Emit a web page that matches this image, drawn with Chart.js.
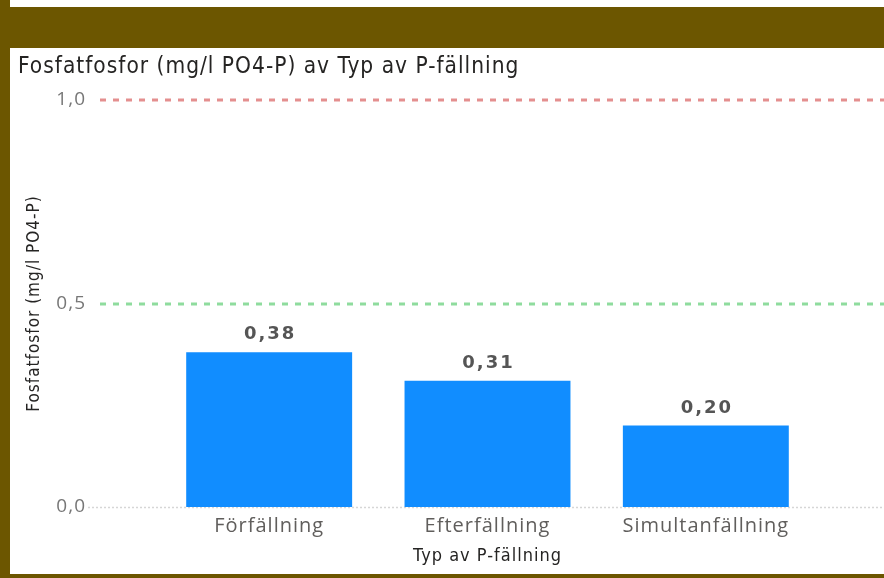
<!DOCTYPE html>
<html>
<head>
<meta charset="utf-8">
<script src="https://cdn.jsdelivr.net/npm/chart.js@4.4.1/dist/chart.umd.min.js"></script>
<style>
  html, body { margin: 0; padding: 0; background: #ffffff; }
  #page { position: relative; width: 884px; height: 578px; overflow: hidden; background: #ffffff; }
  .olive { position: absolute; background: #6c5600; }
  #wrap { position: absolute; left: 10px; top: 48px; width: 874px; height: 526px; }
</style>
</head>
<body>
<div id="page">
  <div class="olive" style="left:0;top:7px;width:884px;height:41px;"></div>
  <div class="olive" style="left:0;top:0;width:10px;height:578px;"></div>
  <div class="olive" style="left:0;top:574px;width:884px;height:4px;"></div>
  <div id="wrap"><canvas id="c"></canvas></div>
</div>
<script>
// Phosphate phosphorus by type of P precipitation
const categories = ['Förfällning', 'Efterfällning', 'Simultanfällning'];
const values = [0.38, 0.31, 0.20];
const yTicks = [0, 0.5, 1.0];
const limitValues = [1.0, 0.5];
const limitColors = ['#e48f8f', '#8fdc9e'];

const titleText = 'Fosfatfosfor (mg/l PO4-P) av Typ av P-fällning';
const yTitle = 'Fosfatfosfor (mg/l PO4-P)';
const xTitle = 'Typ av P-fällning';

const fmt = v => v.toFixed(2).replace('.', ',');
const fmtTick = v => v.toFixed(1).replace('.', ',');

const condensed = "'DejaVu Sans Condensed', 'DejaVu Sans', sans-serif";
const sans = "'Open Sans', sans-serif";

// Slightly tracked text everywhere on the canvas
const tracking = {
  id: 'tracking',
  beforeDraw(chart) { chart.ctx.letterSpacing = '1px'; }
};

// Horizontal limit lines and the dotted baseline, spanning the full visual width
const refLines = {
  id: 'refLines',
  beforeDatasetsDraw(chart) {
    const ctx = chart.ctx;
    const y = chart.scales.y;
    const x0 = 90, x1 = chart.width;
    ctx.save();
    ctx.strokeStyle = '#d6d6d6';
    ctx.lineWidth = 1.5;
    ctx.setLineDash([2, 2]);
    ctx.beginPath();
    const yb = Math.round(y.getPixelForValue(0)) + 0.5;
    ctx.moveTo(x0 - 12, yb); ctx.lineTo(x1, yb);
    ctx.stroke();
    ctx.lineWidth = 3;
    ctx.setLineDash([6, 7]);
    limitValues.forEach((v, i) => {
      const py = Math.round(y.getPixelForValue(v));
      ctx.strokeStyle = limitColors[i];
      ctx.beginPath();
      ctx.moveTo(x0, py); ctx.lineTo(x1, py);
      ctx.stroke();
    });
    ctx.restore();
  }
};

// Value labels above each bar
const valueLabels = {
  id: 'valueLabels',
  afterDatasetsDraw(chart) {
    const ctx = chart.ctx;
    const meta = chart.getDatasetMeta(0);
    ctx.save();
    ctx.font = "bold 18px 'DejaVu Sans', sans-serif";
    ctx.fillStyle = '#555555';
    ctx.textAlign = 'center';
    ctx.textBaseline = 'alphabetic';
    ctx.letterSpacing = '2px';
    meta.data.forEach((bar, i) => {
      ctx.fillText(fmt(values[i]), bar.x + 1, bar.y - 13);
    });
    ctx.restore();
  }
};

new Chart(document.getElementById('c'), {
  type: 'bar',
  data: {
    labels: categories,
    datasets: [{
      data: values,
      backgroundColor: '#118dff',
      borderWidth: 0,
      barPercentage: 0.76,
      categoryPercentage: 1.0
    }]
  },
  options: {
    responsive: true,
    maintainAspectRatio: false,
    animation: false,
    events: [],
    layout: { padding: { left: 8, right: 69, top: 0, bottom: 0 } },
    plugins: {
      legend: { display: false },
      tooltip: { enabled: false },
      title: {
        display: true,
        text: titleText,
        align: 'start',
        color: '#252423',
        font: { family: condensed, size: 22.5, weight: 'normal' },
        padding: { top: 5.5, bottom: 19.5 }
      }
    },
    scales: {
      x: {
        grid: { display: false, drawTicks: false },
        border: { display: false },
        ticks: {
          color: '#605e5c',
          padding: 7,
          font: { family: sans, size: 20 }
        },
        title: {
          display: true,
          text: xTitle,
          color: '#252423',
          font: { family: condensed, size: 18 },
          padding: { top: 0, bottom: 7.2 }
        },
        afterFit(scale) { scale.height = 67; }
      },
      y: {
        min: 0,
        max: 1.0,
        afterBuildTicks(scale) { scale.ticks = yTicks.map(v => ({ value: v })); },
        grid: { display: false, drawTicks: false },
        border: { display: false },
        ticks: {
          color: '#777777',
          padding: 74,
          font: { family: sans, size: 19 },
          callback: v => fmtTick(v)
        },
        title: {
          display: true,
          text: yTitle,
          color: '#252423',
          font: { family: condensed, size: 17 },
          padding: { top: 6.3, bottom: 0 }
        },
        afterFit(scale) {
          scale.width = 142;
          scale.paddingTop = 0;
          scale.paddingBottom = 0;
        }
      }
    }
  },
  plugins: [tracking, refLines, valueLabels]
});
</script>
</body>
</html>
